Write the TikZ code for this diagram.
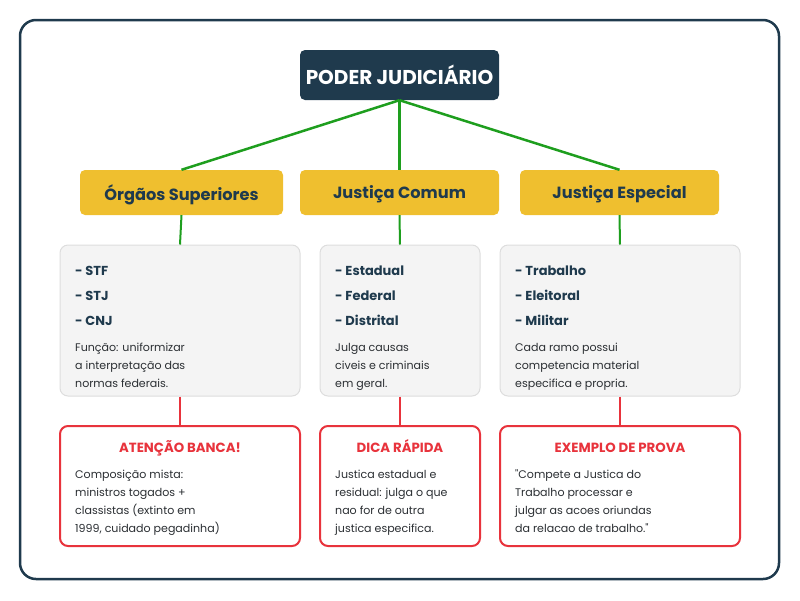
\documentclass[tikz,border=0pt]{standalone}
\usepackage{fontspec}
\setmainfont{Poppins}
\definecolor{navy}{HTML}{1F3A4D}
\definecolor{gold}{HTML}{EFBF2F}
\definecolor{grn}{HTML}{1E9E1E}
\definecolor{rd}{HTML}{E8333C}
\definecolor{gfill}{HTML}{F4F4F4}
\definecolor{gline}{HTML}{DDDDDD}
\definecolor{txt}{HTML}{2B2F33}
\tikzset{
  rootbox/.style={draw=none,fill=navy,rounded corners=5pt,minimum width=199pt,minimum height=50pt,inner sep=0pt,text=white,text depth=0pt,font=\fontsize{20}{22}\selectfont\bfseries},
  catbox/.style={draw=none,fill=gold,rounded corners=5pt,minimum width=203pt,minimum height=45pt,inner sep=0pt,text=navy,text depth=0pt,font=\fontsize{16.2}{18}\selectfont\bfseries},
  infobox/.style={draw=gline,line width=1pt,fill=gfill,rounded corners=8pt,inner sep=0pt},
  notebox/.style={draw=rd,line width=2pt,fill=white,rounded corners=8pt,inner sep=0pt},
  item/.style={anchor=base west,inner sep=0pt,text=navy,font=\fontsize{13}{15}\selectfont\bfseries},
  body/.style={anchor=north west,inner sep=0pt,align=left,text=txt,font=\fontsize{11.05}{17.8}\selectfont},
  notetitle/.style={anchor=base,inner sep=0pt,text=rd,font=\fontsize{13.3}{15}\selectfont\bfseries},
  gline/.style={draw=grn,line width=2.5pt},
  gvline/.style={draw=grn,line width=2pt},
  rvline/.style={draw=rd,line width=2pt},
}
\begin{document}
\begin{tikzpicture}[x=1pt,y=-1pt]
\useasboundingbox (0,0) rectangle (800,600);
\draw[navy,line width=2.5pt,rounded corners=16pt] (20,20) rectangle (779,579);

\node[rootbox] (root) at (399.5,75) {PODER JUDICIÁRIO};

\node[catbox,minimum width=203pt] (c1) at (181.5,192.5) {Órgãos Superiores};
\node[catbox,minimum width=199pt] (c2) at (399.5,192.5) {Justiça Comum};
\node[catbox,minimum width=199pt] (c3) at (619.5,192.5) {Justiça Especial};

\draw[gline] (root.south) -- (c1.north);
\draw[gline] (root.south) -- (c2.north);
\draw[gline] (root.south) -- (c3.north);

% info boxes
\node[infobox,minimum width=240pt,minimum height=151pt] (i1) at (180,320.5) {};
\node[infobox,minimum width=160pt,minimum height=151pt] (i2) at (400,320.5) {};
\node[infobox,minimum width=240pt,minimum height=151pt] (i3) at (620,320.5) {};

\draw[gvline] (c1.south) -- (i1.north);
\draw[gvline] (c2.south) -- (i2.north);
\draw[gvline] (c3.south) -- (i3.north);

\node[item] (a1) at (75,275) {- STF};
\node[item] (a2) at (75,300) {- STJ};
\node[item] (a3) at (75,325) {- CNJ};
\node[body] (b1) at (75,340.5) {\rule{0pt}{11pt}Função: uniformizar\\a interpretação das\\normas federais.};

\node[item] (d1) at (335,275) {- Estadual};
\node[item] (d2) at (335,300) {- Federal};
\node[item] (d3) at (335,325) {- Distrital};
\node[body] (b2) at (335,340.5) {\rule{0pt}{11pt}Julga causas\\civeis e criminais\\em geral.};

\node[item] (e1) at (515,275) {- Trabalho};
\node[item] (e2) at (515,300) {- Eleitoral};
\node[item] (e3) at (515,325) {- Militar};
\node[body] (b3) at (515,340.5) {\rule{0pt}{11pt}Cada ramo possui\\competencia material\\especifica e propria.};

% note boxes
\node[notebox,minimum width=240pt,minimum height=120pt] (n1) at (180,486) {};
\node[notebox,minimum width=160pt,minimum height=120pt] (n2) at (400,486) {};
\node[notebox,minimum width=240pt,minimum height=120pt] (n3) at (620,486) {};

\draw[rvline] (i1.south) -- (n1.north);
\draw[rvline] (i2.south) -- (n2.north);
\draw[rvline] (i3.south) -- (n3.north);

\node[notetitle] (t1) at (180,452.3) {ATENÇÃO BANCA!};
\node[notetitle] (t2) at (400,452.3) {DICA RÁPIDA};
\node[notetitle] (t3) at (620,452.3) {EXEMPLO DE PROVA};

\node[body] (m1) at (75,467.7) {\rule{0pt}{11pt}Composição mista:\\ministros togados +\\classistas (extinto em\\1999, cuidado pegadinha)};
\node[body] (m2) at (335,467.7) {\rule{0pt}{11pt}Justica estadual e\\residual: julga o que\\nao for de outra\\justica especifica.};
\node[body,font=\fontsize{11.05}{17.8}\selectfont\addfontfeatures{Ligatures=TeXOff}] (m3) at (515,467.7) {\rule{0pt}{11pt}"Compete a Justica do\\Trabalho processar e\\julgar as acoes oriundas\\da relacao de trabalho."};
\end{tikzpicture}
\end{document}
